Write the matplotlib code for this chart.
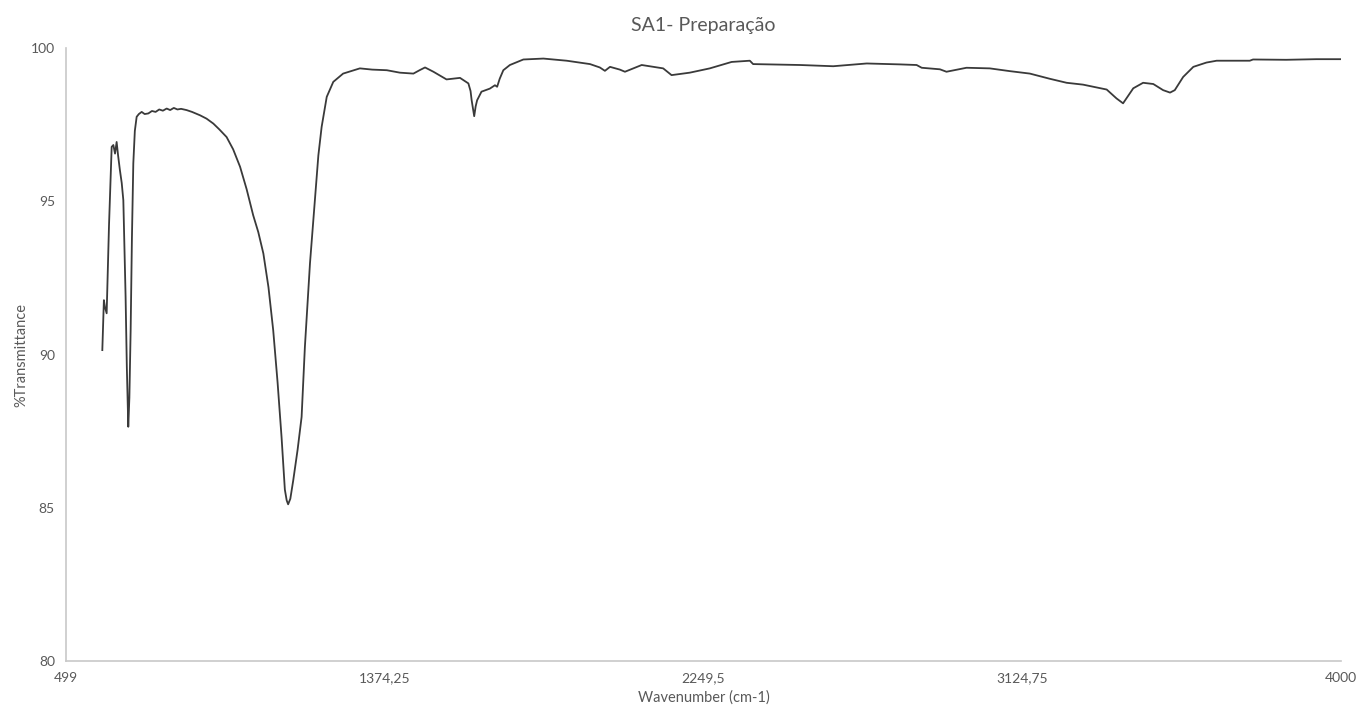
import matplotlib.pyplot as plt

# FTIR spectrum, values
wavenumber = [
    598.7, 603, 606, 610.6, 617, 624.4, 629, 633.6, 638, 642, 647, 652, 656.4,
    662.6, 666, 670, 673, 676.5, 680, 683.8, 688, 693, 699, 706.8, 715, 725,
    735, 745, 755, 765, 775.5, 785, 795, 805, 815, 830, 845, 867, 885, 903.5,
    920, 940, 958, 977, 995, 1013, 1027, 1041, 1055, 1068, 1080, 1091, 1100,
    1105, 1109, 1115, 1123, 1135, 1146, 1155, 1169, 1183, 1192, 1201, 1215,
    1233, 1260, 1306, 1340, 1380, 1416, 1453, 1470, 1485, 1508, 1544, 1581,
    1604, 1610, 1613, 1620, 1624, 1628, 1640, 1663, 1677, 1683, 1690, 1700,
    1718, 1755, 1810, 1874, 1938, 1965, 1979, 1993, 2020, 2034, 2080, 2139,
    2162, 2212, 2267, 2327, 2377, 2386, 2515, 2606, 2698, 2789, 2835, 2849,
    2899, 2917, 2972, 3036, 3091, 3146, 3201, 3247, 3292, 3357, 3384, 3402,
    3430, 3457, 3485, 3512, 3531, 3544, 3567, 3595, 3631, 3659, 3750, 3759,
    3850, 3933, 4000,
]
transmittance = [
    90.15, 91.78, 91.55, 91.35, 94.2, 96.78, 96.84, 96.56, 96.94, 96.5, 96.02,
    95.6, 95.04, 91.9, 89.6, 87.65, 88.6, 90.8, 93.8, 96.24, 97.3, 97.76,
    97.85, 97.92, 97.85, 97.87, 97.95, 97.92, 98.0, 97.96, 98.03, 97.98,
    98.05, 98.0, 98.02, 97.98, 97.92, 97.81, 97.7, 97.54, 97.35, 97.1, 96.7,
    96.13, 95.4, 94.55, 94.0, 93.3, 92.2, 90.8, 89.1, 87.3, 85.6, 85.25,
    85.12, 85.3, 85.9, 86.9, 87.97, 90.25, 92.98, 95.15, 96.5, 97.43, 98.41,
    98.9, 99.17, 99.34, 99.3, 99.28, 99.2, 99.17, 99.28, 99.37, 99.23, 98.98,
    99.03, 98.85, 98.6, 98.3, 97.78, 98.1, 98.3, 98.58, 98.68, 98.79, 98.74,
    99.0, 99.28, 99.45, 99.63, 99.66, 99.59, 99.48, 99.37, 99.26, 99.39, 99.3,
    99.23, 99.45, 99.34, 99.12, 99.2, 99.34, 99.55, 99.59, 99.48, 99.45,
    99.41, 99.5, 99.47, 99.45, 99.36, 99.31, 99.23, 99.36, 99.34, 99.25,
    99.17, 99.0, 98.87, 98.81, 98.65, 98.36, 98.2, 98.69, 98.87, 98.83, 98.63,
    98.55, 98.63, 99.06, 99.39, 99.53, 99.59, 99.59, 99.63, 99.62, 99.64,
    99.64,
]

x_ticks = [499, 1374.25, 2249.5, 3124.75, 4000]
y_ticks = [80, 85, 90, 95, 100]

plt.rcParams['font.family'] = ['Lato', 'DejaVu Sans']

fig = plt.figure(figsize=(13.64, 7.08), dpi=100)
ax = fig.add_axes([0.0484, 0.066, 0.9346, 0.866])

ax.plot(wavenumber, transmittance, color='#3a3a3a', linewidth=1.3)

ax.set_xlim(499, 4000)
ax.set_ylim(80, 100)
ax.set_xticks(x_ticks)
ax.set_xticklabels([f'{t:g}'.replace('.', ',') for t in x_ticks])
ax.set_yticks(y_ticks)
ax.tick_params(length=0, labelsize=10, labelcolor='#595959', pad=8)

for side in ['top', 'right']:
    ax.spines[side].set_visible(False)
for side in ['left', 'bottom']:
    ax.spines[side].set_color('#c8c8c8')
    ax.spines[side].set_linewidth(1.2)

ax.set_title('SA1- Preparação', fontsize=14, color='#595959', pad=12)
ax.set_xlabel('Wavenumber (cm-1)', fontsize=10.5, color='#595959', labelpad=4)
ax.set_ylabel('%Transmittance', fontsize=10.5, color='#595959', labelpad=2)

fig.savefig('out.png', dpi=100, facecolor='white')
